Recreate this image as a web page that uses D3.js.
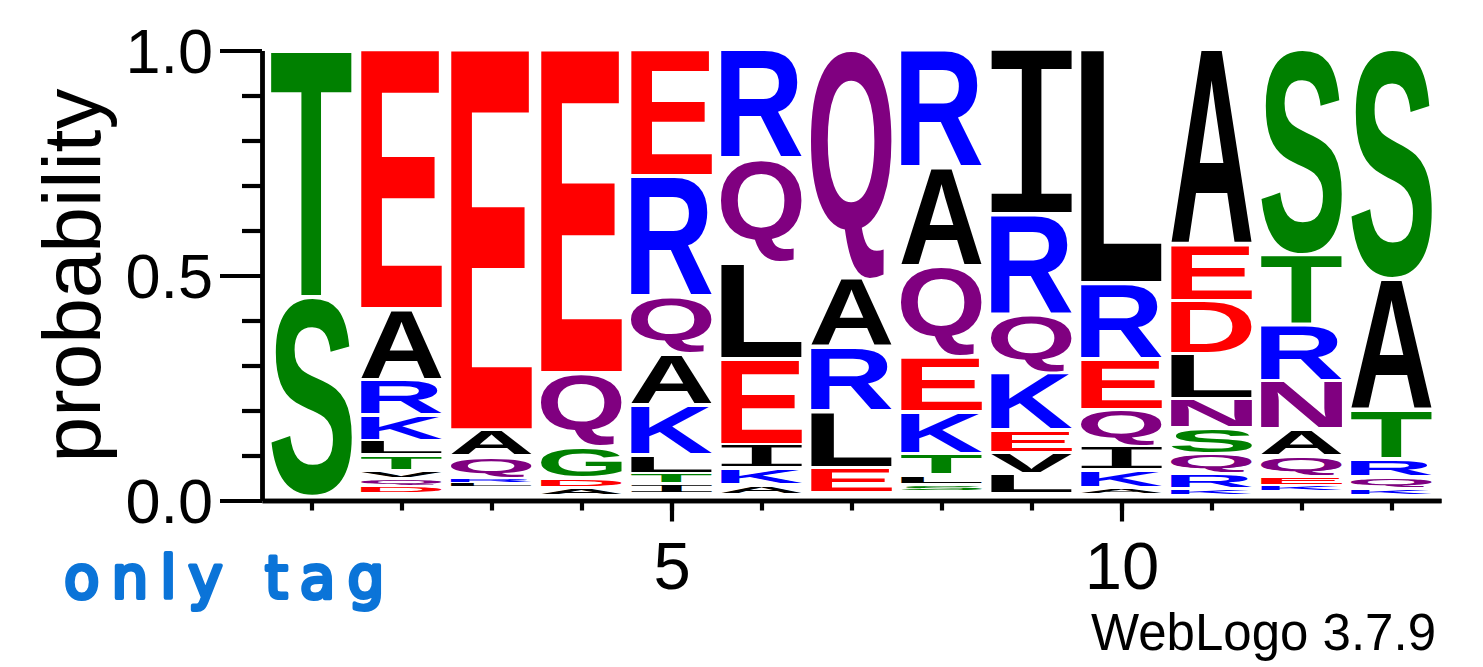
<!DOCTYPE html>
<html><head><meta charset="utf-8">
<script src="https://cdn.jsdelivr.net/npm/d3@7"></script>
<style>html,body{margin:0;padding:0;background:#fff;} svg{display:block;background:#fff}</style>
</head><body>
<svg id="chart" width="1483" height="667"></svg>
<script>
// ---- data (stacks listed top -> bottom) ----
const positions = [1,2,3,4,5,6,7,8,9,10,11,12,13];
const stackLetters = [
  ["T","S"],
  ["E","A","R","K","L","T","V","Q","D"],
  ["E","A","Q","R","L"],
  ["E","Q","G","D","A"],
  ["E","R","Q","A","K","L","T","I"],
  ["R","Q","L","E","I","K","A"],
  ["Q","A","R","L","E"],
  ["R","A","Q","E","K","T","L","S"],
  ["I","R","Q","K","E","V","L"],
  ["L","R","E","Q","I","K","A"],
  ["A","E","D","L","N","S","Q","R","K"],
  ["S","T","R","N","A","Q","E","K"],
  ["S","A","T","R","Q","K"]
];
const stackProbs = [
  [0.551,0.444],
  [0.578,0.158,0.078,0.056,0.033,0.034,0.016,0.017,0.017],
  [0.847,0.058,0.050,0.007,0.009],
  [0.720,0.164,0.070,0.021,0.014],
  [0.282,0.269,0.127,0.113,0.111,0.042,0.022,0.020],
  [0.244,0.230,0.214,0.191,0.053,0.036,0.021],
  [0.511,0.153,0.142,0.124,0.056],
  [0.264,0.220,0.200,0.122,0.093,0.048,0.021,0.011],
  [0.367,0.224,0.129,0.127,0.051,0.047,0.044],
  [0.520,0.169,0.113,0.080,0.053,0.040,0.013],
  [0.436,0.124,0.118,0.100,0.064,0.058,0.044,0.034,0.011],
  [0.458,0.156,0.124,0.107,0.060,0.044,0.020,0.010],
  [0.511,0.291,0.109,0.040,0.027,0.012]
];
const yMajorTicks = [0.0, 0.5, 1.0];
const yMinorTicks = [0.1,0.2,0.3,0.4,0.6,0.7,0.8,0.9];
const xLabelTicks = [5, 10];
const yTitle = "probability";
const footer = "WebLogo 3.7.9";
const note = "only tag";

// chemistry colour scheme
const colorGroups = [
  {letters:"GSTYC", color:"#008000"},
  {letters:"NQ", color:"#800080"},
  {letters:"KRH", color:"#0000ff"},
  {letters:"DE", color:"#ff0000"},
  {letters:"AVLIPWFM", color:"#000000"}
];
function letterColor(l){ const g = colorGroups.find(g=>g.letters.includes(l)); return g?g.color:"#000"; }

const svg = d3.select("#chart");
const x = d3.scaleLinear().domain([0.45, 13.55]).range([262, 1441]);
const y = d3.scaleLinear().domain([0, 1]).range([500.5, 50.5]);
const colW = 81;
const glyphFont = "'Liberation Sans', Arial, Helvetica, sans-serif";
const serifIFont = "'DejaVu Sans Mono', monospace";
function fontFor(l){ return l === "I" ? {fam: serifIFont, w: "normal"} : {fam: glyphFont, w: "bold"}; }

// measure glyph ink bounds
const ctx = document.createElement("canvas").getContext("2d");
const inkCache = {};
function ink(l){
  if(!inkCache[l]){
    const f = fontFor(l);
    ctx.font = `${f.w} 200px ${f.fam}`;
    const m = ctx.measureText(l);
    inkCache[l] = {left:m.actualBoundingBoxLeft, right:m.actualBoundingBoxRight,
                   asc:m.actualBoundingBoxAscent, desc:m.actualBoundingBoxDescent};
  }
  return inkCache[l];
}

// build glyph records via cumulative stacking from the top (1.0)
const glyphs = [];
positions.forEach((p,i)=>{
  let cum = 1;
  stackLetters[i].forEach((l,j)=>{
    const v = stackProbs[i][j];
    const top = y(cum); cum -= v; const bot = y(cum);
    glyphs.push({p, l, top, bot});
  });
});

const gLogo = svg.append("g");
gLogo.selectAll("text.glyph").data(glyphs.filter(d=>d.bot-d.top>1)).join("text")
  .attr("class","glyph")
  .attr("x",0).attr("y",0)
  .style("font-family", d=>fontFor(d.l).fam).style("font-weight", d=>fontFor(d.l).w).style("font-size","200px")
  .attr("fill", d=>letterColor(d.l))
  .attr("transform", d=>{
    const b = ink(d.l);
    const h = d.bot - d.top;
    const gap = Math.min(3.5, h*0.3);
    const gh = h - gap;
    const sx = colW/(b.left+b.right);
    const sy = gh/(b.asc+b.desc);
    const bx = x(d.p) - colW/2;
    return `translate(${bx},${d.top}) scale(${sx},${sy}) translate(${b.left},${b.asc})`;
  })
  .text(d=>d.l);

// axes
const axisFont = "'Liberation Sans', Arial, Helvetica, sans-serif";
const yMinor = svg.append("g").attr("transform","translate(262,0)")
  .call(d3.axisLeft(y).tickValues(yMinorTicks).tickSize(20).tickSizeOuter(0).tickFormat(""));
const yMajor = svg.append("g").attr("transform","translate(262,0)")
  .call(d3.axisLeft(y).tickValues(yMajorTicks).tickSize(42).tickSizeOuter(0).tickPadding(7).tickFormat(d3.format(".1f")));
const xMinor = svg.append("g").attr("transform","translate(0,500.5)")
  .call(d3.axisBottom(x).tickValues(positions).tickSize(10).tickSizeOuter(0).tickFormat(""));
const xMajor = svg.append("g").attr("transform","translate(0,500.5)")
  .call(d3.axisBottom(x).tickValues(xLabelTicks).tickSize(21).tickSizeOuter(0).tickFormat(d3.format("d")));

[yMinor,yMajor,xMinor,xMajor].forEach(a=>{
  a.selectAll("path.domain").attr("stroke","#000").attr("stroke-width",4.4);
  a.selectAll(".tick line").attr("stroke","#000").attr("stroke-width",4.2);
});
yMajor.selectAll(".tick text").style("font-family",axisFont).style("font-size","63px").attr("fill","#000").attr("dy","0.35em");
xMajor.selectAll(".tick text").style("font-family",axisFont).style("font-size","67px").attr("fill","#000")
  .attr("y",88.5).attr("dy",0);

svg.append("text")
  .attr("transform",`translate(100,${y(0.5)}) rotate(-90)`)
  .attr("text-anchor","middle")
  .style("font-family",axisFont).style("font-size","82px").attr("fill","#000")
  .text(yTitle);

svg.append("text")
  .attr("x",1436).attr("y",650).attr("text-anchor","end")
  .style("font-family",axisFont).style("font-size","51px").attr("fill","#000")
  .text(footer);

svg.append("text")
  .attr("x",64).attr("y",598)
  .style("font-family","'DejaVu Sans', sans-serif").style("font-size","58px")
  .style("letter-spacing","12px")
  .attr("fill","#0b74d8").attr("stroke","#0b74d8").attr("stroke-width",4).attr("stroke-linejoin","round").attr("stroke-linecap","round")
  .text(note);
</script>
</body></html>
